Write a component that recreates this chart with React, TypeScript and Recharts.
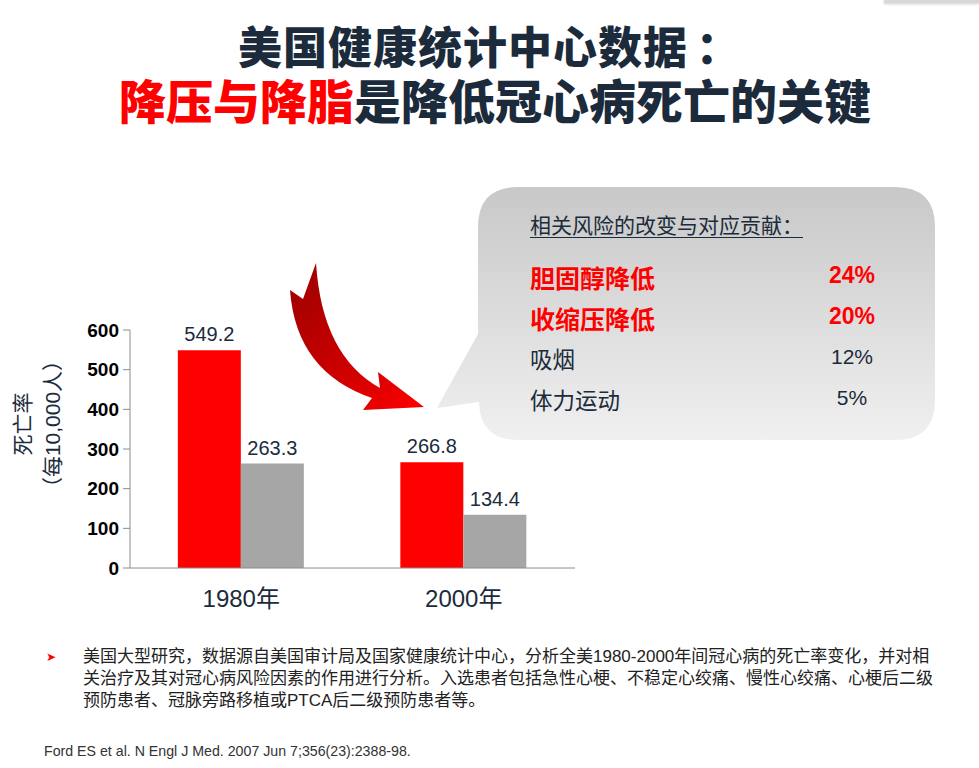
import React from "react"
import { BarChart, Bar, XAxis, YAxis, LabelList } from "recharts"

const years = ["1980年", "2000年"]
const redValues = [549.2, 266.8]
const grayValues = [263.3, 134.4]
const yTicks = [0, 100, 200, 300, 400, 500, 600]

const factorNames = ["胆固醇降低", "收缩压降低", "吸烟", "体力运动"]
const factorShares = ["24%", "20%", "12%", "5%"]
const factorHighlight = [true, true, false, false]

const data = years.map((year, i) => ({ year, red: redValues[i], gray: grayValues[i] }))

const DARK = "#1B2B3B"
const CJK = "Arial, 'Liberation Sans', 'Noto Sans CJK SC', sans-serif"

function YLabel(props: any) {
  const vb = props.viewBox || {}
  const cy = vb.y + vb.height / 2 - 25
  return (
    <g fill={DARK} fontFamily={CJK} fontSize={21}>
      <text x={30} y={cy} transform={`rotate(-90 30 ${cy})`} textAnchor="middle">死亡率</text>
      <text x={60} y={cy} transform={`rotate(-90 60 ${cy})`} textAnchor="middle">（每10,000人）</text>
    </g>
  )
}

export default function App() {
  return (
    <div style={{ position: "absolute", left: 0, top: 0, width: 979, height: 768, background: "#fff", overflow: "hidden", fontFamily: CJK }}>
      <div style={{ position: "absolute", left: 884, top: 0, width: 95, height: 3, background: "#d8d8d8", boxShadow: "0 1px 3px #ccc" }} />

      <div style={{ position: "absolute", left: 0, top: 22, width: 979, textAlign: "center", fontSize: 44, fontWeight: 900, color: DARK, lineHeight: "54px", letterSpacing: 1 }}>
        美国健康统计中心数据<span style={{ marginLeft: 8 }}>：</span>
      </div>
      <div style={{ position: "absolute", left: 0, top: 75, width: 990, textAlign: "center", fontSize: 47, fontWeight: 900, color: DARK, lineHeight: "56px" }}>
        <span style={{ color: "#FF0000" }}>降压与降脂</span>是降低冠心病死亡的关键
      </div>

      <div style={{ position: "absolute", left: 0, top: 0 }}>
        <BarChart width={979} height={768} data={data} margin={{ top: 330, right: 404, bottom: 160, left: 70 }} barCategoryGap="21.5%" barGap={0}>
          <XAxis dataKey="year" height={40} stroke="#8c8c8c" tickLine={false} tickMargin={16}
            tick={{ fill: DARK, fontSize: 24, fontFamily: CJK }} />
          <YAxis width={60} domain={[0, 600]} ticks={yTicks} interval={0} stroke="#8c8c8c" tickSize={7} tickMargin={4}
            tick={{ fill: "#000", fontSize: 19, fontWeight: 700, fontFamily: "Arial, 'Liberation Sans', sans-serif" }}
            label={<YLabel />} />
          <Bar dataKey="red" fill="#FF0000" isAnimationActive={false}>
            <LabelList dataKey="red" position="top" offset={9} fill={DARK} fontSize={20} fontFamily={CJK} />
          </Bar>
          <Bar dataKey="gray" fill="#A6A6A6" isAnimationActive={false}>
            <LabelList dataKey="gray" position="top" offset={9} fill={DARK} fontSize={20} fontFamily={CJK} />
          </Bar>
        </BarChart>
      </div>

      <svg width={979} height={768} style={{ position: "absolute", left: 0, top: 0, pointerEvents: "none" }}>
        <defs>
          <linearGradient id="bubble" x1="0" y1="0" x2="0" y2="1">
            <stop offset="0" stopColor="#C8C8C8" />
            <stop offset="1" stopColor="#F0F0F0" />
          </linearGradient>
          <linearGradient id="arrow" x1="0" y1="0" x2="1" y2="1">
            <stop offset="0" stopColor="#9A0000" />
            <stop offset="0.6" stopColor="#D00000" />
            <stop offset="1" stopColor="#FF0000" />
          </linearGradient>
        </defs>
        <path d="M518,187 H895 Q935,187 935,227 V400 Q935,440 895,440 H518 Q480,440 479,402 L437,408 L478,334 V227 Q478,187 518,187 Z" fill="url(#bubble)" />
        <path d="M290,290 Q296,372 372,398 L363,410 L424,407 L378,372 L380,388 Q322,356 316,263 L303,299 Z" fill="url(#arrow)" />
      </svg>

      <div style={{ position: "absolute", left: 530, top: 212, fontSize: 21, color: DARK, textDecoration: "underline", textUnderlineOffset: 4, textDecorationThickness: 1, lineHeight: "28px", whiteSpace: "nowrap" }}>
        相关风险的改变与对应贡献：
      </div>
      {factorNames.map((name, i) => (
        <div key={name} style={{ position: "absolute", left: 530, top: 263 + i * 41, width: 350, height: 32, lineHeight: "32px", color: factorHighlight[i] ? "#FF0000" : DARK, fontWeight: factorHighlight[i] ? 700 : 400, fontSize: factorHighlight[i] ? 25 : 22.5 }}>
          <span>{name}</span>
          <span style={{ position: "absolute", left: 292, width: 60, textAlign: "center", top: -4, fontSize: factorHighlight[i] ? 23 : 21 }}>{factorShares[i]}</span>
        </div>
      ))}

      <div style={{ position: "absolute", left: 46, top: 646, color: "#FF0000", fontSize: 12, lineHeight: "22px" }}>➤</div>
      <div style={{ position: "absolute", left: 83, top: 646, fontSize: 17, lineHeight: "22px", color: "#222", whiteSpace: "nowrap" }}>
        <div>美国大型研究，数据源自美国审计局及国家健康统计中心，分析全美1980-2000年间冠心病的死亡率变化，并对相</div>
        <div>关治疗及其对冠心病风险因素的作用进行分析。入选患者包括急性心梗、不稳定心绞痛、慢性心绞痛、心梗后二级</div>
        <div>预防患者、冠脉旁路移植或PTCA后二级预防患者等。</div>
      </div>
      <div style={{ position: "absolute", left: 44, top: 743, fontSize: 14.2, color: "#333", whiteSpace: "nowrap", fontFamily: "Arial, 'Liberation Sans', sans-serif" }}>
        Ford ES et al. N Engl J Med. 2007 Jun 7;356(23):2388-98.
      </div>
    </div>
  )
}
